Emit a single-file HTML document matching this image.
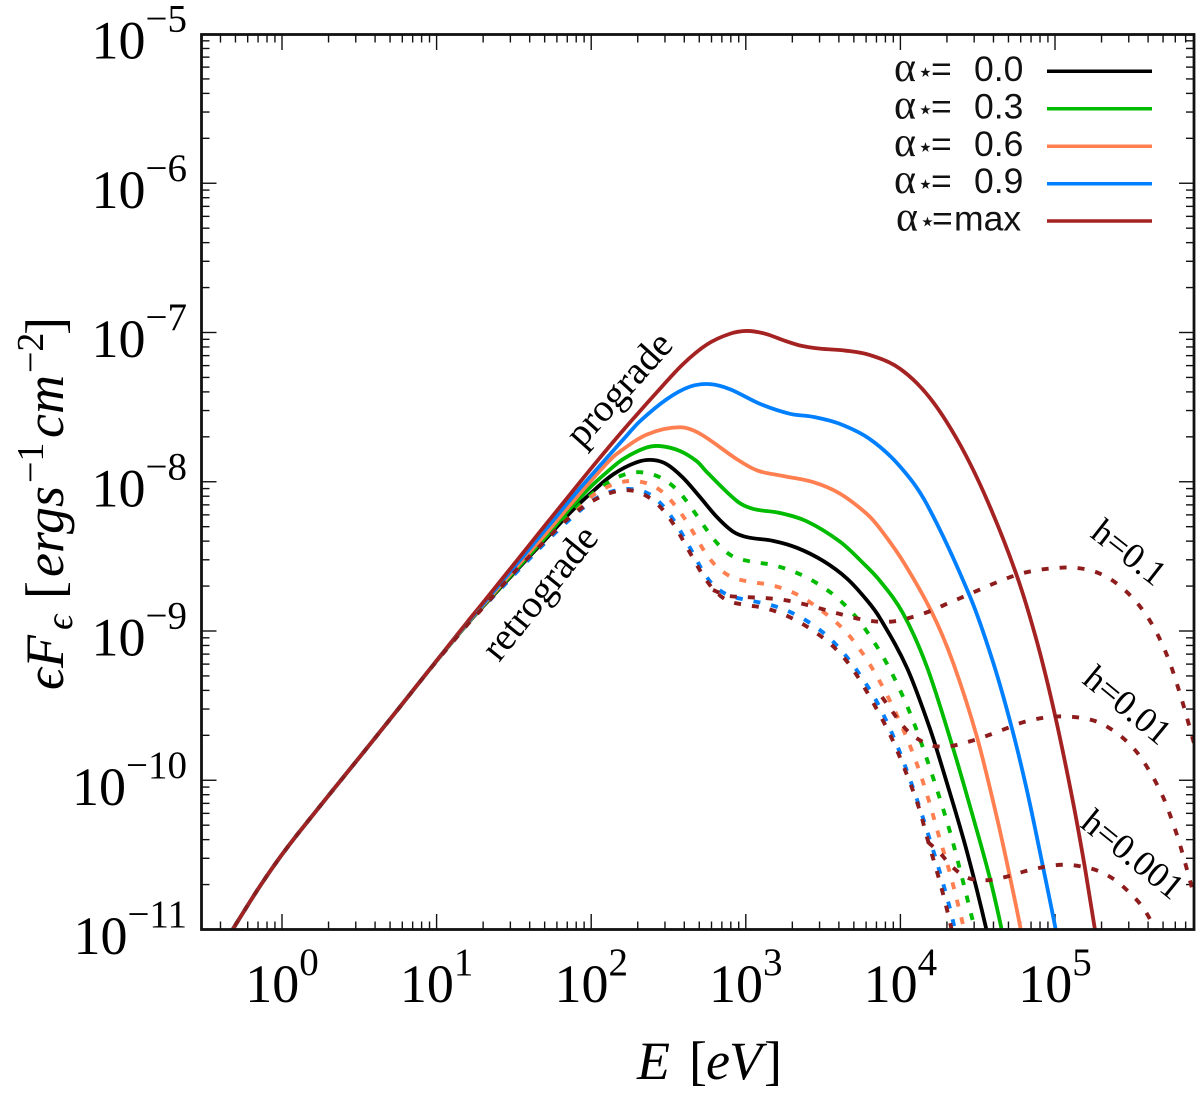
<!DOCTYPE html>
<html>
<head>
<meta charset="utf-8">
<title>Spectra chart</title>
<style>
html,body{margin:0;padding:0;background:#fff;width:1200px;height:1105px;overflow:hidden}
svg{display:block}
text{font-family:"Liberation Serif","DejaVu Serif",serif;fill:#000}
.leg{font-family:"Liberation Sans","DejaVu Sans",sans-serif;font-size:35.5px;fill:#111}
.alpha{font-family:"Liberation Serif",serif;font-size:42px}
.star{font-size:27px}
.ann{font-size:39px}
.hl{font-size:36px}
</style>
</head>
<body>
<svg id="chart" xmlns="http://www.w3.org/2000/svg" width="1200" height="1105" viewBox="0 0 1200 1105">
  <defs><clipPath id="plot-clip"><rect x="201.5" y="34" width="992.5" height="895.5"/></clipPath></defs>
  <rect x="0" y="0" width="1200" height="1105" fill="#fff"/>
  <g id="ticks"></g>
  <g id="tick-labels"></g>
  <g id="series" clip-path="url(#plot-clip)"></g>
  <rect x="201.5" y="34.5" width="992.5" height="895" fill="none" stroke="#111" stroke-width="2.8"/>

  <text y="1079" font-size="54" font-style="italic"><tspan x="637">E</tspan><tspan x="689" font-style="normal">[</tspan><tspan x="706">e</tspan><tspan x="729">V</tspan><tspan x="764" font-style="normal">]</tspan></text>

  <g transform="rotate(-90)">
    <text y="63" font-size="54" font-style="italic"><tspan x="-690">ϵ</tspan><tspan x="-668">F</tspan><tspan x="-630" y="72" font-size="38">ϵ</tspan><tspan x="-599" y="63" font-style="normal">[</tspan><tspan x="-577">ergs</tspan><tspan x="-483" y="43" font-size="38" font-style="normal">−1</tspan><tspan x="-438" y="63">cm</tspan><tspan x="-373" y="43" font-size="38" font-style="normal">−2</tspan><tspan x="-335" y="63" font-style="normal">]</tspan></text>
  </g>

  <text class="ann" transform="translate(582,449) rotate(-48)">prograde</text>
  <text class="ann" transform="translate(499,663) rotate(-51)">retrograde</text>
  <text class="hl" transform="translate(1089,536) rotate(38)">h=0.1</text>
  <text class="hl" transform="translate(1081,682) rotate(39.5)">h=0.01</text>
  <text class="hl" transform="translate(1079,826) rotate(39)">h=0.001</text>

  <g>
    <g>
      <text class="leg" y="81"><tspan x="894" class="alpha">α</tspan><tspan x="917" class="star">⋆</tspan><tspan x="931">=</tspan><tspan x="974">0.0</tspan></text>
      <line x1="1047" x2="1152" y1="71.3" y2="71.3" stroke="#000" stroke-width="3.5"/>
    </g>
    <g>
      <text class="leg" y="118.5"><tspan x="894" class="alpha">α</tspan><tspan x="917" class="star">⋆</tspan><tspan x="931">=</tspan><tspan x="974">0.3</tspan></text>
      <line x1="1047" x2="1152" y1="108.7" y2="108.7" stroke="#00bb00" stroke-width="3.5"/>
    </g>
    <g>
      <text class="leg" y="156"><tspan x="894" class="alpha">α</tspan><tspan x="917" class="star">⋆</tspan><tspan x="931">=</tspan><tspan x="974">0.6</tspan></text>
      <line x1="1047" x2="1152" y1="146.3" y2="146.3" stroke="#ff7f50" stroke-width="3.5"/>
    </g>
    <g>
      <text class="leg" y="193"><tspan x="894" class="alpha">α</tspan><tspan x="917" class="star">⋆</tspan><tspan x="931">=</tspan><tspan x="974">0.9</tspan></text>
      <line x1="1047" x2="1152" y1="183.7" y2="183.7" stroke="#0080ff" stroke-width="3.5"/>
    </g>
    <g>
      <text class="leg" y="230.5"><tspan x="896" class="alpha">α</tspan><tspan x="919" class="star">⋆</tspan><tspan x="932">=</tspan><tspan x="954">max</tspan></text>
      <line x1="1047" x2="1152" y1="221" y2="221" stroke="#a52222" stroke-width="3.5"/>
    </g>
  </g>
</svg>

<script>
// Tick decades (log10)
const xDecades = [0, 1, 2, 3, 4, 5];
const yDecades = [-5, -6, -7, -8, -9, -10, -11];

// All curves are log10(E/eV), log10(flux)
const sharedLogE = [-0.369, -0.317, -0.188, -0.099, 0.006, 0.116, 0.330, 0.550, 0.763, 0.977];
const sharedLogF = [-11.08, -10.997, -10.78, -10.641, -10.487, -10.34, -10.065, -9.784, -9.509, -9.228];

const blackLogE = [1.197,1.281,1.714,1.863,1.992,2.141,2.296,2.4,2.49,2.594,2.704,2.814,2.917,3.008,3.176,3.331,3.499,3.654,3.784,3.868,4.043,4.191,4.301,4.431,4.56,4.599];
const blackLogF = [-8.953,-8.856,-8.377,-8.203,-8.082,-7.941,-7.861,-7.848,-7.874,-7.968,-8.102,-8.243,-8.343,-8.377,-8.39,-8.437,-8.524,-8.638,-8.792,-8.906,-9.221,-9.643,-10.018,-10.467,-10.997,-11.238];

const greenLogE = [1.197,1.281,1.714,1.863,1.992,2.102,2.206,2.348,2.445,2.574,2.684,2.749,2.943,3.046,3.221,3.396,3.609,3.758,3.868,4.017,4.172,4.34,4.47,4.58,4.657,4.696];
const greenLogF = [-8.95,-8.853,-8.367,-8.176,-8.035,-7.935,-7.841,-7.767,-7.754,-7.787,-7.854,-7.941,-8.142,-8.189,-8.203,-8.256,-8.39,-8.544,-8.658,-8.859,-9.214,-9.777,-10.246,-10.648,-10.997,-11.238];

const orangeLogE = [1.197,1.281,1.714,1.927,2.102,2.167,2.361,2.574,2.704,2.943,3.073,3.241,3.435,3.609,3.784,3.868,4.017,4.204,4.34,4.495,4.625,4.709,4.78,4.819];
const orangeLogF = [-8.947,-8.85,-8.343,-8.075,-7.874,-7.807,-7.667,-7.62,-7.667,-7.854,-7.935,-7.961,-7.995,-8.069,-8.209,-8.31,-8.524,-8.859,-9.194,-9.683,-10.246,-10.648,-10.997,-11.238];

const blueLogE = [1.197,1.281,1.714,1.927,2.206,2.316,2.49,2.639,2.768,2.898,3.092,3.286,3.433,3.608,3.803,3.997,4.172,4.45,4.599,4.722,4.825,4.922,5.006,5.045];
const blueLogF = [-8.943,-8.846,-8.31,-8.04,-7.72,-7.586,-7.439,-7.352,-7.338,-7.372,-7.486,-7.553,-7.559,-7.606,-7.70,-7.885,-8.122,-8.745,-9.194,-9.643,-10.085,-10.581,-10.997,-11.238];

const maxLogE = [1.197,1.281,1.714,1.927,2.044,2.206,2.426,2.594,2.749,2.898,3.008,3.124,3.253,3.35,3.48,3.642,3.803,3.997,4.191,4.385,4.566,4.754,4.884,5.0,5.116,5.194,5.259,5.291];
const maxLogF = [-8.94,-8.836,-8.276,-8.002,-7.854,-7.653,-7.399,-7.204,-7.07,-7.003,-6.983,-7.003,-7.057,-7.09,-7.111,-7.118,-7.144,-7.224,-7.419,-7.734,-8.122,-8.611,-9.06,-9.549,-10.132,-10.581,-10.997,-11.238];

const retroGreenLogE = [1.197,1.281,1.714,1.915,2.012,2.102,2.206,2.316,2.445,2.542,2.62,2.755,2.833,2.917,3.04,3.157,3.273,3.396,3.499,3.59,3.68,3.758,3.887,3.997,4.094,4.211,4.321,4.411,4.47,4.515];
const retroGreenLogF = [-8.957,-8.859,-8.39,-8.156,-8.075,-8.008,-7.948,-7.928,-7.961,-8.035,-8.129,-8.337,-8.437,-8.511,-8.538,-8.551,-8.585,-8.638,-8.705,-8.772,-8.866,-8.96,-9.161,-9.389,-9.623,-9.978,-10.333,-10.702,-10.95,-11.137];

const retroOrangeLogE = [1.197,1.281,1.714,1.927,2.012,2.122,2.238,2.361,2.464,2.542,2.613,2.678,2.736,2.807,2.904,3.021,3.144,3.26,3.37,3.467,3.564,3.654,3.726,3.797,3.913,4.017,4.107,4.185,4.249,4.321,4.379,4.405,4.45];
const retroOrangeLogF = [-8.957,-8.86,-8.39,-8.176,-8.082,-8.022,-7.988,-8.002,-8.062,-8.156,-8.256,-8.37,-8.477,-8.571,-8.645,-8.672,-8.685,-8.719,-8.772,-8.846,-8.92,-9.007,-9.107,-9.208,-9.422,-9.65,-9.884,-10.132,-10.38,-10.615,-10.856,-10.97,-11.137];

const retroBlueLogE = [1.197,1.281,1.714,1.934,2.038,2.147,2.27,2.38,2.464,2.535,2.6,2.658,2.716,2.781,2.878,3.0,3.116,3.233,3.344,3.447,3.538,3.622,3.706,3.836,3.939,4.03,4.114,4.185,4.256,4.321,4.347,4.386];
const retroBlueLogF = [-8.957,-8.862,-8.39,-8.183,-8.102,-8.055,-8.042,-8.075,-8.156,-8.256,-8.37,-8.477,-8.591,-8.692,-8.765,-8.792,-8.812,-8.846,-8.899,-8.966,-9.04,-9.134,-9.241,-9.442,-9.663,-9.898,-10.146,-10.38,-10.615,-10.856,-10.976,-11.137];

const retroMaxLogE = [1.197,1.281,1.339,1.494,1.662,1.837,1.934,2.038,2.147,2.27,2.38,2.471,2.542,2.6,2.658,2.716,2.788,2.878,2.995,3.111,3.228,3.338,3.441,3.538,3.622,3.7,3.823,3.939,4.03,4.12,4.178,4.25,4.308,4.353];
const retroMaxLogF = [-8.957,-8.866,-8.799,-8.611,-8.437,-8.256,-8.176,-8.109,-8.062,-8.049,-8.102,-8.189,-8.296,-8.404,-8.511,-8.618,-8.725,-8.806,-8.826,-8.839,-8.879,-8.933,-9.0,-9.074,-9.161,-9.261,-9.476,-9.697,-9.931,-10.166,-10.414,-10.655,-10.889,-11.104];

const h01LogE = [2.788,2.878,3.014,3.137,3.26,3.376,3.493,3.609,3.726,3.849,3.965,4.081,4.204,4.308,4.424,4.534,4.644,4.761,4.877,5.0,5.116,5.239,5.343,5.44,5.53,5.601,5.66,5.711,5.757,5.828,5.893,5.938];
const h01LogF = [-8.725,-8.772,-8.772,-8.779,-8.792,-8.819,-8.853,-8.886,-8.92,-8.94,-8.94,-8.906,-8.866,-8.812,-8.765,-8.712,-8.665,-8.618,-8.591,-8.578,-8.571,-8.591,-8.638,-8.712,-8.806,-8.906,-9.013,-9.127,-9.248,-9.482,-9.73,-9.898];

const h001LogE = [3.881,3.946,4.017,4.094,4.204,4.321,4.437,4.56,4.677,4.787,4.903,5.019,5.142,5.259,5.369,5.466,5.543,5.608,5.666,5.718,5.796,5.86,5.893,5.938];
const h001LogF = [-9.442,-9.536,-9.643,-9.717,-9.777,-9.777,-9.744,-9.703,-9.657,-9.61,-9.583,-9.569,-9.576,-9.596,-9.657,-9.737,-9.824,-9.931,-10.038,-10.152,-10.38,-10.621,-10.749,-10.923];

const h0001LogE = [4.178,4.256,4.334,4.437,4.567,4.689,4.806,4.922,5.045,5.162,5.278,5.388,5.479,5.563,5.627,5.679];
const h0001LogF = [-10.414,-10.481,-10.588,-10.668,-10.675,-10.648,-10.608,-10.581,-10.561,-10.574,-10.601,-10.662,-10.749,-10.836,-10.95,-11.07];

const NS = 'http://www.w3.org/2000/svg';
// Axis functions
function xScale(logE) { return 282 + 154.6 * logE; }
function yScale(logF) { return 34 + 149.25 * (-5 - logF); }

function curvePath(logE, logF) {
  const xs = logE.map(xScale);
  const raw = logF.map(yScale);
  const n = xs.length;
  // light fairing of hand-read points: pull each toward its neighbours' chord
  const ys = raw.map(function (y, i) {
    if (i === 0 || i === n - 1) return y;
    const t = (xs[i] - xs[i - 1]) / (xs[i + 1] - xs[i - 1]);
    return 0.68 * y + 0.32 * (raw[i - 1] + t * (raw[i + 1] - raw[i - 1]));
  });
  const m = xs.map(function (_, i) {
    const a = Math.max(0, i - 1), b = Math.min(n - 1, i + 1);
    return (ys[b] - ys[a]) / (xs[b] - xs[a]);
  });
  let d = 'M' + xs[0].toFixed(2) + ' ' + ys[0].toFixed(2);
  for (let i = 0; i < n - 1; i++) {
    const dx = (xs[i + 1] - xs[i]) / 3;
    d += 'C' + (xs[i] + dx).toFixed(2) + ' ' + (ys[i] + m[i] * dx).toFixed(2) + ' ' +
      (xs[i + 1] - dx).toFixed(2) + ' ' + (ys[i + 1] - m[i + 1] * dx).toFixed(2) + ' ' +
      xs[i + 1].toFixed(2) + ' ' + ys[i + 1].toFixed(2);
  }
  return d;
}

const seriesLayer = document.getElementById('series');
function addCurve(name, logE, logF, color, dashed) {
  const p = document.createElementNS(NS, 'path');
  p.setAttribute('d', curvePath(logE, logF));
  p.setAttribute('fill', 'none');
  p.setAttribute('stroke', color);
  p.setAttribute('stroke-width', dashed ? '3.9' : '3.8');
  if (dashed) p.setAttribute('stroke-dasharray', '7 11');
  
  
  seriesLayer.appendChild(p);
}

const DARK = '#8e1c1c';
addCurve('curve-0.0', sharedLogE.concat(blackLogE), sharedLogF.concat(blackLogF), '#000000', false);
addCurve('prograde-curve-0.3', sharedLogE.concat(greenLogE), sharedLogF.concat(greenLogF), '#00bb00', false);
addCurve('prograde-curve-0.6', sharedLogE.concat(orangeLogE), sharedLogF.concat(orangeLogF), '#ff7f50', false);
addCurve('prograde-curve-0.9', sharedLogE.concat(blueLogE), sharedLogF.concat(blueLogF), '#0080ff', false);
addCurve('prograde-curve-max', sharedLogE.concat(maxLogE), sharedLogF.concat(maxLogF), '#a52222', false);
addCurve('retrograde-curve-0.3', sharedLogE.concat(retroGreenLogE), sharedLogF.concat(retroGreenLogF), '#00bb00', true);
addCurve('retrograde-curve-0.6', sharedLogE.concat(retroOrangeLogE), sharedLogF.concat(retroOrangeLogF), '#ff7f50', true);
addCurve('retrograde-curve-0.9', sharedLogE.concat(retroBlueLogE), sharedLogF.concat(retroBlueLogF), '#0080ff', true);
addCurve('retrograde-curve-max', sharedLogE.concat(retroMaxLogE), sharedLogF.concat(retroMaxLogF), DARK, true);
addCurve('curve-h-0.1', h01LogE, h01LogF, DARK, true);
addCurve('curve-h-0.01', h001LogE, h001LogF, DARK, true);
addCurve('curve-h-0.001', h0001LogE, h0001LogF, DARK, true);

// Ticks
const tickLayer = document.getElementById('ticks');
const X0 = 201.5, X1 = 1194, Y0 = 34.5, Y1 = 929.5;
function addTick(x1, y1, x2, y2, name) {
  const l = document.createElementNS(NS, 'line');
  l.setAttribute('x1', x1);
  l.setAttribute('y1', y1);
  l.setAttribute('x2', x2);
  l.setAttribute('y2', y2);
  l.setAttribute('stroke', '#111');
  l.setAttribute('stroke-width', '1.4');
  
  
  tickLayer.appendChild(l);
}
for (let d = -1; d <= 5; d++) {
  for (let k = 1; k <= 9; k++) {
    const x = xScale(d + Math.log10(k));
    if (x <= X0 + 1 || x >= X1 - 1) continue;
    const len = k === 1 ? 15.5 : 8;
    addTick(x, Y1, x, Y1 - len, 'x-tick-bottom');
    addTick(x, Y0, x, Y0 + len, 'x-tick-top');
  }
}
for (let d = -11; d <= -6; d++) {
  for (let k = 1; k <= 9; k++) {
    const y = yScale(d + Math.log10(k));
    if (y <= Y0 + 1 || y >= Y1 - 1) continue;
    const len = k === 1 ? 15 : 8;
    addTick(X0, y, X0 + len, y, 'y-tick-left');
    addTick(X1, y, X1 - len, y, 'y-tick-right');
  }
}

// Tick labels
const labelLayer = document.getElementById('tick-labels');
function addLabel(x, y, anchor, exp, riseDy, name) {
  const t = document.createElementNS(NS, 'text');
  t.setAttribute('x', x);
  t.setAttribute('y', y);
  t.setAttribute('text-anchor', anchor);
  t.setAttribute('font-size', '54');
  
  
  t.appendChild(document.createTextNode('10'));
  const s = document.createElementNS(NS, 'tspan');
  s.setAttribute('font-size', '39');
  s.setAttribute('dy', riseDy);
  s.textContent = String(exp).replace('-', '\u2212');
  t.appendChild(s);
  labelLayer.appendChild(t);
}
xDecades.forEach(function (d) {
  addLabel(xScale(d), 1002, 'middle', d, -27, 'x-tick-label');
});
yDecades.forEach(function (d) {
  addLabel(187, yScale(d) + 24.5, 'end', d, -27, 'y-tick-label');
});
</script>
</body>
</html>
